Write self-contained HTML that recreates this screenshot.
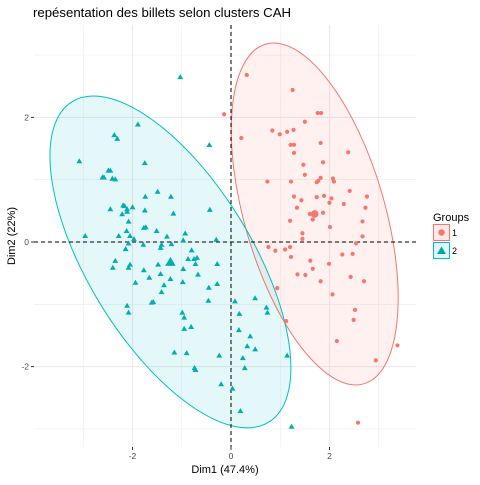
<!DOCTYPE html>
<html><head><meta charset="utf-8"><style>
body{margin:0;background:#fff;}
svg text{font-family:"Liberation Sans",sans-serif;}
</style></head><body>
<svg id="chart" width="480" height="480" xmlns="http://www.w3.org/2000/svg">
<rect width="480" height="480" fill="#fff"/>
<text x="33" y="17" font-size="13.2" fill="#000">repésentation des billets selon clusters CAH</text>
<g id="grid"></g>
<g id="ellipses"></g>
<g id="refs"></g>
<g id="pts"></g>
<g id="axes"></g>
<text x="225" y="473" font-size="11" text-anchor="middle" fill="#000">Dim1 (47.4%)</text>
<text transform="translate(15,236) rotate(-90)" font-size="11" text-anchor="middle" fill="#000">Dim2 (22%)</text>
<g>
<text x="433" y="221" font-size="11" fill="#000">Groups</text>
<g>
<rect x="433.5" y="224.5" width="16" height="16" fill="#fde9e8" stroke="#f8766d"/>
<circle cx="441.5" cy="232.5" r="3.2" fill="#f8766d"/>
<text x="452" y="236" font-size="9" fill="#000">1</text></g>
<g>
<rect x="433.5" y="242.5" width="16" height="16" fill="#e3f6f6" stroke="#00bfc4"/>
<path d="M441.5,246.5 L446,254 L437,254 Z" fill="#00a8ad"/>
<text x="452" y="254" font-size="9" fill="#000">2</text></g>
</g>
</svg>
<script>
const xTicks=[-2,0,2];
const yTicks=[-2,0,2];
const xTickLabels=["-2","0","2"];
const yTickLabels=["-2","0","2"];
const g2x=[-1.03,-1.89,-2.37,-2.31,-0.44,-3.08,-1.75,-2.49,-2.45,-2.61,-2.58,-2.41,-2.35,-1.74,-1.49,-1.22,-2.45,-2.19,-2.16,-2.00,-2.11,-1.75,-0.43,-2.21,-2.11,-1.17,-2.08,-1.77,-1.73,-2.12,-1.51,-0.93,-2.96,-2.28,-2.05,-1.97,-1.30,-0.97,-0.30,-2.08,-1.78,-1.41,-1.43,-1.21,-2.14,-0.80,-2.35,-2.40,-2.05,-2.08,-0.87,-0.75,-0.69,-0.72,-1.48,-0.28,-1.77,-0.97,-1.43,-1.66,-0.67,-1.23,-1.94,-0.98,-1.36,-0.45,-0.28,-1.41,-0.46,-1.61,-1.58,0.08,0.49,-2.11,-2.08,-0.99,-0.95,0.17,-0.95,-0.81,0.16,0.39,0.33,0.49,-1.15,-0.90,-0.24,0.24,0.28,-0.74,-0.72,-0.20,0.03,0.19,0.72,0.74,1.14,1.23];
const g2y=[2.65,1.89,1.72,1.66,1.56,1.30,1.27,1.15,1.15,1.04,1.04,1.02,1.01,0.73,0.81,0.73,0.53,0.59,0.58,0.56,0.53,0.51,0.52,0.45,0.49,0.46,0.33,0.23,0.24,0.18,0.18,0.14,0.10,0.10,0.10,0.05,0.09,0.03,0.04,-0.02,-0.04,-0.04,-0.09,-0.03,-0.11,-0.13,-0.30,-0.41,-0.36,-0.41,-0.27,-0.27,-0.25,-0.35,-0.36,-0.35,-0.45,-0.43,-0.51,-0.57,-0.52,-0.59,-0.65,-0.64,-0.69,-0.73,-0.67,-0.80,-0.94,-0.97,-0.96,-0.95,-0.90,-1.02,-1.13,-1.13,-1.21,-1.15,-1.39,-1.36,-1.41,-1.51,-1.67,-1.72,-1.77,-1.78,-1.82,-1.86,-2.02,-2.02,-2.05,-2.28,-2.35,-2.71,-1.05,-1.13,-1.82,-2.96];
const g1x=[0.32,1.25,-0.14,1.76,1.83,1.50,0.84,0.99,1.14,1.27,0.21,1.21,1.28,1.82,1.28,2.38,1.87,1.47,1.50,0.74,1.22,1.82,1.74,1.77,2.07,2.09,2.41,1.28,1.74,1.89,2.04,2.76,1.43,2.00,2.29,1.34,2.73,1.60,1.87,1.66,1.20,2.67,2.01,1.45,2.67,1.45,0.76,0.90,1.10,1.20,1.22,2.54,2.26,2.47,1.61,1.66,1.99,1.35,1.51,1.82,2.43,2.70,0.94,2.06,2.52,2.49,1.12,2.15,3.38,2.94,2.58];
const g1y=[2.68,2.44,2.05,2.07,2.07,1.93,1.79,1.73,1.77,1.80,1.67,1.56,1.56,1.59,1.43,1.44,1.28,1.24,1.08,0.97,0.97,1.03,0.96,0.98,1.02,0.97,0.82,0.73,0.72,0.74,0.70,0.73,0.67,0.63,0.61,0.55,0.55,0.45,0.47,0.36,0.34,0.33,0.24,0.14,0.09,0.05,-0.08,-0.14,-0.12,-0.08,-0.24,-0.02,-0.20,-0.19,-0.30,-0.43,-0.35,-0.52,-0.53,-0.63,-0.56,-0.63,-0.74,-0.84,-1.09,-1.25,-1.27,-1.59,-1.66,-1.90,-2.90];
const centroid1=[1.70,0.45];
const centroid2=[-1.23,-0.32];

const NS="http://www.w3.org/2000/svg";
const L=34,R=416,T=25,B=447;
const sx=v=>231+v*49.25;
const sy=v=>242-v*62.3;
function mk(tag,attrs,parent){const e=document.createElementNS(NS,tag);for(const k in attrs)e.setAttribute(k,attrs[k]);parent.appendChild(e);return e;}
const grid=document.getElementById('grid');
for(let v=-3;v<=3;v++){
  const major=v%2===0;
  const l=mk('line',{x1:sx(v),x2:sx(v),y1:T,y2:B,stroke:'#ebebeb','stroke-width':major?1.1:0.55},grid);
  
  
  const h=mk('line',{x1:L,x2:R,y1:sy(v),y2:sy(v),stroke:'#ebebeb','stroke-width':major?1.1:0.55},grid);
  
  
}
const ell=document.getElementById('ellipses');
function ellipse(c,a,b,ang,fill,stroke,name){
  const e=mk('ellipse',{cx:sx(c[0]),cy:sy(c[1]),rx:a,ry:b,transform:`rotate(${ang} ${sx(c[0])} ${sy(c[1])})`,fill:fill,'fill-opacity':0.1,stroke:stroke,'stroke-width':1},ell);
  
  
}
ellipse(centroid1,176.8,70.3,73.9,'#f8766d','#f8766d','ellipse-group-1');
ellipse(centroid2,188,81.8,58.5,'#00bfc4','#00bfc4','ellipse-group-2');
const refs=document.getElementById('refs');
const vr=mk('line',{x1:sx(0),x2:sx(0),y1:T,y2:B,stroke:'#000','stroke-width':1,'stroke-dasharray':'4,3'},refs);


const hr=mk('line',{x1:L,x2:R,y1:sy(0),y2:sy(0),stroke:'#000','stroke-width':1,'stroke-dasharray':'4,3'},refs);


const pts=document.getElementById('pts');
function tri(x,y,s,parent){return mk('path',{d:`M${x},${y-s} L${x+s*1.05},${y+s*0.8} L${x-s*1.05},${y+s*0.8} Z`,fill:'#00aeb3'},parent);}
g2x.forEach((v,i)=>{const p=tri(sx(v),sy(g2y[i]),2.8,pts);
  
  });
g1x.forEach((v,i)=>{const p=mk('circle',{cx:sx(v),cy:sy(g1y[i]),r:2.1,fill:'#f8766d'},pts);
  
  });
const c1=mk('circle',{cx:sx(centroid1[0]),cy:sy(centroid1[1]),r:3.8,fill:'#f8766d'},pts);


const c2=tri(sx(centroid2[0]),sy(centroid2[1]),5,pts);


const axes=document.getElementById('axes');
xTicks.forEach((v,i)=>{
  const t=mk('line',{x1:sx(v),x2:sx(v),y1:B,y2:B+3,stroke:'#333'},axes);
  
  
  const tx=mk('text',{x:sx(v),y:B+12,'font-size':8.5,'text-anchor':'middle',fill:'#4d4d4d'},axes);
  tx.textContent=xTickLabels[i];
  
  
});
yTicks.forEach((v,i)=>{
  const t=mk('line',{x1:L-3,x2:L,y1:sy(v),y2:sy(v),stroke:'#333'},axes);
  
  
  const tx=mk('text',{x:L-5,y:sy(v)+3,'font-size':8.5,'text-anchor':'end',fill:'#4d4d4d'},axes);
  tx.textContent=yTickLabels[i];
  
  
});
</script>
</body></html>
